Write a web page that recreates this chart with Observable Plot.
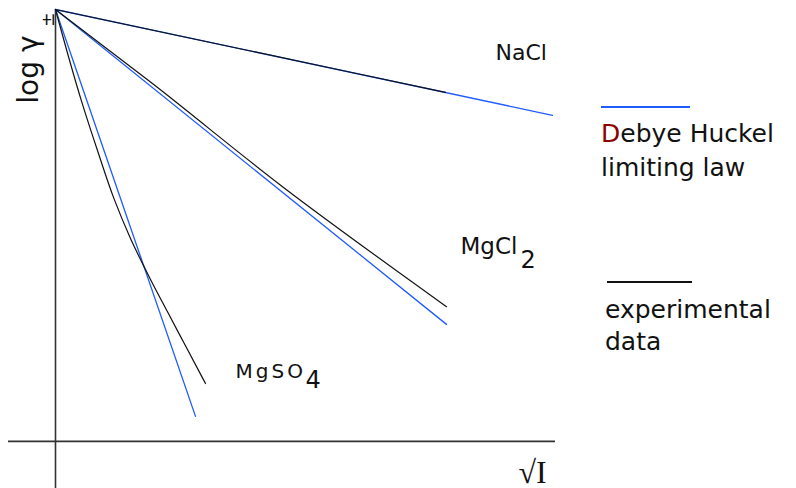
<!DOCTYPE html>
<html><head><meta charset="utf-8">
<script src="https://cdn.jsdelivr.net/npm/d3@7"></script>
<script src="https://cdn.jsdelivr.net/npm/@observablehq/plot@0.6"></script>
<style>
html,body{margin:0;padding:0;background:#fff;}
#wrap{position:relative;width:796px;height:488px;overflow:hidden;}
#chart svg{display:block}
.leg{position:absolute;font-family:"DejaVu Sans";font-size:25px;line-height:34px;color:#111;white-space:nowrap}
.swatch{position:absolute;height:2px}
</style></head><body>
<div id="wrap"><div id="chart"></div></div>
<script>
// ---- data (schematic units) ----
const salts = ["NaCl", "MgCl", "MgSO"];
const saltSubscripts = ["", "2", "4"];
// Debye–Hückel limiting law: straight lines from the origin to these end points
const limitingLawEndSqrtI = [0.994, 0.782, 0.280];
const limitingLawEndLogGamma = [-0.245, -0.729, -0.942];
// experimental data curves
const expNaClSqrtI = [0, 0.39, 0.78];
const expNaClLogGamma = [0, -0.096, -0.192];
const expMgCl2SqrtI = [0, 0.19, 0.456, 0.782];
const expMgCl2LogGamma = [0, -0.168, -0.412, -0.688];
const expMgSO4SqrtI = [0, 0.052, 0.085, 0.116, 0.15, 0.19, 0.224, 0.256, 0.30];
const expMgSO4LogGamma = [0, -0.212, -0.33, -0.435, -0.53, -0.625, -0.70, -0.77, -0.866];
const yAxisLabel = "log γ";
const yAxisLabelSub = "±";
const xAxisLabel = "√I";
const legendLabels = [["Debye Huckel", "limiting law"], ["experimental", "data"]];
const legendColors = ["#1f5cff", "#111111"];

// ---- tables ----
const lawRows = salts.flatMap((s, i) => [
  {salt: s, x: 0, y: 0},
  {salt: s, x: limitingLawEndSqrtI[i], y: limitingLawEndLogGamma[i]}
]);
const expX = [expNaClSqrtI, expMgCl2SqrtI, expMgSO4SqrtI];
const expY = [expNaClLogGamma, expMgCl2LogGamma, expMgSO4LogGamma];
const expRows = salts.flatMap((s, i) => expX[i].map((x, j) => ({salt: s, x, y: expY[i][j]})));
const lawEnd = i => [{salt: salts[i], sub: saltSubscripts[i], x: limitingLawEndSqrtI[i], y: limitingLawEndLogGamma[i]}];
const expEnd = i => [{salt: salts[i], sub: saltSubscripts[i], x: expX[i][expX[i].length - 1], y: expY[i][expY[i].length - 1]}];

const font = "DejaVu Sans";
const ink = "#111";

const chart = Plot.plot({
  width: 796, height: 488,
  marginTop: 9, marginBottom: 0, marginLeft: 8, marginRight: 241,
  x: {domain: [-0.094, 1], axis: null},
  y: {domain: [-1.109, 0], axis: null},
  style: {background: "transparent", overflow: "visible"},
  marks: [
    Plot.ruleX([0], {stroke: "#333", strokeWidth: 1.6}),
    Plot.ruleY([-1], {stroke: "#333", strokeWidth: 1.6}),
    Plot.line(lawRows, {x: "x", y: "y", z: "salt", stroke: legendColors[0], strokeWidth: 1.3}),
    Plot.line(expRows, {x: "x", y: "y", z: "salt", stroke: legendColors[1], strokeWidth: 1.2, curve: "monotone-y"}),
    // series labels
    Plot.text(lawEnd(0), {x: "x", y: "y", text: "salt", dx: -57, dy: -55, textAnchor: "start", lineAnchor: "bottom", fontSize: 22, fontFamily: font, fill: ink}),
    Plot.text(expEnd(1), {x: "x", y: "y", text: "salt", dx: 14, dy: -53, textAnchor: "start", lineAnchor: "bottom", fontSize: 23, fontFamily: font, fill: ink}),
    Plot.text(expEnd(1), {x: "x", y: "y", text: "sub", dx: 74, dy: -39, textAnchor: "start", lineAnchor: "bottom", fontSize: 24, fontFamily: font, fill: ink}),
    Plot.text(expEnd(2), {x: "x", y: "y", text: "salt", dx: 30, dy: -6, textAnchor: "start", lineAnchor: "bottom", fontSize: 20, fontFamily: font, fill: ink}),
    Plot.text(expEnd(2), {x: "x", y: "y", text: "sub", dx: 100, dy: 4, textAnchor: "start", lineAnchor: "bottom", fontSize: 24, fontFamily: font, fill: ink}),
    // axis labels
    Plot.text([yAxisLabel], {frameAnchor: "top-left", text: d => d, rotate: -90, textAnchor: "end", lineAnchor: "bottom", dx: 29, dy: 26, fontSize: 28, fontFamily: font, fill: ink}),
    Plot.text([yAxisLabelSub], {frameAnchor: "top-left", text: d => d, rotate: -90, textAnchor: "end", lineAnchor: "bottom", dx: 45, dy: 3, fontSize: 17, fontFamily: font, fill: ink}),
    Plot.text([xAxisLabel], {frameAnchor: "bottom-right", text: d => d, dx: -37, dy: -6, textAnchor: "start", lineAnchor: "bottom", fontSize: 32, fontFamily: "Liberation Serif", fill: ink})
  ]
});
// widen the spacing of the MgSO label as in the reference
d3.select(chart).selectAll("text").filter(function() { return this.textContent === salts[2]; }).attr("letter-spacing", "3px");
const wrap = document.getElementById("wrap");
document.getElementById("chart").append(chart);

// legend (HTML, to the right of the plot)
const legendPos = [{sx: 601, sy: 106, sw: 89, tx: 601, ty: 117, lh: 34}, {sx: 607, sy: 281, sw: 85, tx: 605, ty: 294, lh: 32}];
legendLabels.forEach((lines, i) => {
  const p = legendPos[i];
  const sw = document.createElement("div");
  sw.className = "swatch";
  sw.style.cssText = `left:${p.sx}px;top:${p.sy}px;width:${p.sw}px;background:${legendColors[i]}`;
  wrap.append(sw);
  const t = document.createElement("div");
  t.className = "leg";
  t.style.cssText = `left:${p.tx}px;top:${p.ty}px;line-height:${p.lh}px`;
  lines.forEach((line, k) => {
    if (k) t.append(document.createElement("br"));
    if (i === 0 && k === 0) {
      const d = document.createElement("span");
      d.style.color = "#8b0000";
      d.textContent = line[0];
      t.append(d, line.slice(1));
    } else t.append(line);
  });
  wrap.append(t);
});
</script>
</body></html>
